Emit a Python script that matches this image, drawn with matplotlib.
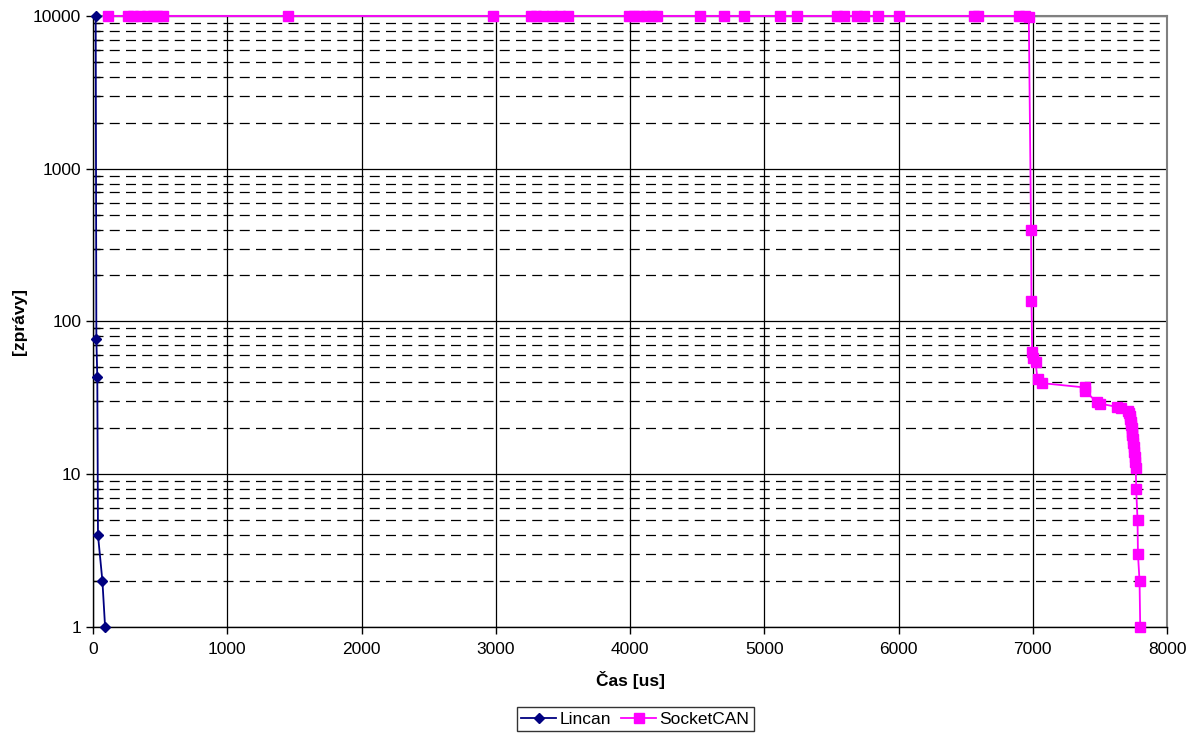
import matplotlib
matplotlib.use("Agg")

import matplotlib.pyplot as plt
import numpy as np
from matplotlib.ticker import FixedLocator, LogLocator, NullFormatter


plt.rcParams["font.family"] = ["Liberation Sans", "DejaVu Sans"]

# -----------------------------
# Data: messages still waiting vs. time
# -----------------------------
lincan_t = [20, 25, 32, 37, 70, 90]
lincan_n = [10000, 77, 43, 4, 2, 1]

socketcan_t = [
    115, 260, 300, 350, 400, 450, 480, 520, 1450, 2980, 3260, 3300, 3350,
    3420, 3480, 3540, 3990, 4030, 4070, 4120, 4160, 4200, 4520, 4700, 4850,
    5120, 5240, 5540, 5590, 5690, 5740, 5850, 6000, 6560, 6590, 6900, 6940,
    6970, 6987, 6990, 6995, 7000, 7020, 7035, 7065, 7385, 7390, 7480, 7500,
    7625, 7660, 7712, 7718, 7722, 7726, 7730, 7733, 7736, 7739, 7742, 7745,
    7748, 7752, 7756, 7760, 7763, 7767,
    7770, 7780, 7783, 7795, 7800,
]
socketcan_n = [
    10000, 10000, 10000, 10000, 10000, 10000, 10000, 10000, 10000,
    10000, 10000, 10000, 10000, 10000, 10000, 10000, 10000, 10000, 10000,
    10000, 10000, 10000, 10000, 10000, 10000, 10000, 10000, 10000, 10000,
    10000, 10000, 10000, 10000, 10000, 10000, 10000, 10000,
    9900, 398, 136, 63, 58, 54, 42, 39.5, 37, 35, 29.5, 29,
    27.6, 27, 26, 25, 24, 23, 22, 21, 20, 19, 18, 17, 16, 15, 14, 13, 12, 11,
    8, 5, 3, 2, 1,
]

x_ticks = [0, 1000, 2000, 3000, 4000, 5000, 6000, 7000, 8000]
y_ticks = [1, 10, 100, 1000, 10000]

FS = 12.5


def main():
    fig = plt.figure(figsize=(11.97, 7.37), dpi=100)
    ax = fig.add_axes([0.0777, 0.1493, 0.8973, 0.829])

    ax.set_yscale("log")
    ax.set_xlim(0, 8000)
    ax.set_ylim(1, 10000)

    # grid: solid at decades / thousands, dashed at the in-between decades
    ax.xaxis.set_major_locator(FixedLocator(x_ticks))
    ax.yaxis.set_major_locator(FixedLocator(y_ticks))
    ax.yaxis.set_minor_locator(LogLocator(base=10, subs=np.arange(2, 10)))
    ax.yaxis.set_minor_formatter(NullFormatter())
    ax.set_yticklabels([str(v) for v in y_ticks])
    ax.set_axisbelow(True)
    ax.grid(True, which="major", axis="both", color="black", linewidth=0.9, linestyle="-")
    ax.grid(True, which="minor", axis="y", color="black", linewidth=0.9,
            linestyle=(0, (8, 5)))

    ax.plot(socketcan_t, socketcan_n, color="#FF00FF", marker="s", markersize=6.5,
            linewidth=1.3, label="SocketCAN", zorder=3, clip_on=False)
    ax.plot(lincan_t, lincan_n, color="#000080", marker="D", markersize=5,
            linewidth=1.3, label="Lincan", zorder=4, clip_on=False)

    ax.tick_params(axis="both", which="major", direction="out", length=5,
                   labelsize=FS, width=1)
    ax.tick_params(axis="y", which="minor", direction="in", length=5, width=1)
    ax.tick_params(axis="x", which="major", pad=6)

    for side in ("left", "bottom"):
        ax.spines[side].set_color("black")
        ax.spines[side].set_linewidth(1)
    for side in ("right", "top"):
        ax.spines[side].set_color("#808080")
        ax.spines[side].set_linewidth(1.5)

    ax.set_xlabel("Čas [us]", fontsize=FS, fontweight="bold", labelpad=10)
    ax.set_ylabel("[zprávy]", fontsize=FS, fontweight="bold", labelpad=4)

    # legend lists Lincan first
    handles, labels = ax.get_legend_handles_labels()
    leg = ax.legend(handles[::-1], labels[::-1], loc="upper center",
                    bbox_to_anchor=(0.505, -0.117), ncol=2,
                    fontsize=FS, frameon=True, fancybox=False,
                    edgecolor="black", handlelength=2.0, handletextpad=0.2,
                    columnspacing=0.6, borderpad=0.25)
    leg.get_frame().set_linewidth(1)

    fig.savefig("out.png", dpi=100)
    plt.close(fig)


if __name__ == "__main__":
    main()
